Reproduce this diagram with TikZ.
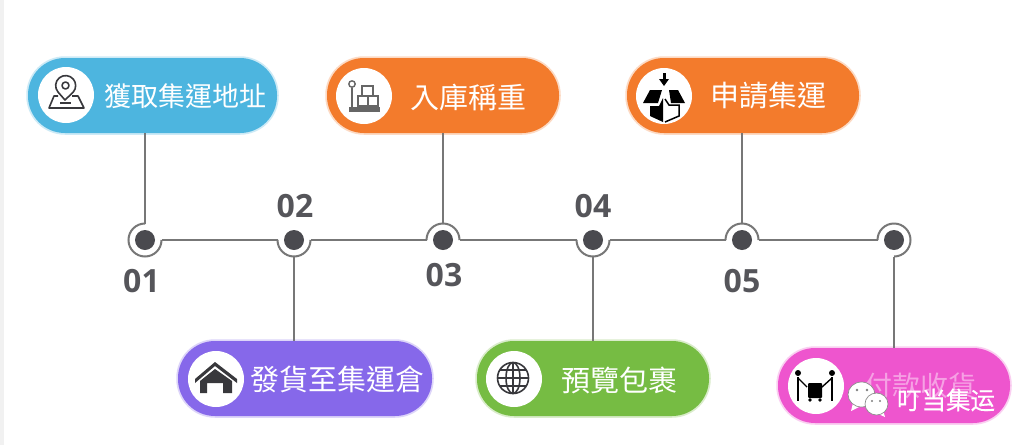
\documentclass[tikz,border=0pt]{standalone}
\usepackage{fontspec}
\setmainfont{Noto Sans CJK TC}
\newfontfamily\numfont{Open Sans}
\newfontfamily\markfont[FakeBold=0.4]{Noto Sans CJK SC}
\usetikzlibrary{arrows.meta,positioning,calc,shapes.geometric}
\definecolor{pillblue}{HTML}{4DB5DF}
\definecolor{pillorange}{HTML}{F37B2C}
\definecolor{pillpurple}{HTML}{8668EA}
\definecolor{pillgreen}{HTML}{76BC43}
\definecolor{pillpink}{HTML}{EE55CE}
\definecolor{linegrey}{HTML}{777777}
\definecolor{dotgrey}{HTML}{4A4A4F}
\definecolor{numgrey}{HTML}{55555A}
\definecolor{icongrey}{HTML}{38383C}
\definecolor{stripgrey}{HTML}{F1F1F1}
\tikzset{
  pill/.style={rounded corners=37pt, fill=#1, minimum height=75pt, inner sep=0pt,
               preaction={draw=#1!28, line width=3.5pt}},
  iconbg/.style={circle, fill=white, minimum size=56pt, inner sep=0pt},
  pilltext/.style={text=white, font=\fontsize{29pt}{31pt}\selectfont, inner sep=0pt, anchor=west},
  stemline/.style={draw=linegrey, line width=2pt},
  fdot/.style={circle, fill=dotgrey, minimum size=20pt, inner sep=0pt, outer sep=6.5pt},
  numlabel/.style={font=\numfont\bfseries\fontsize{32pt}{34pt}\selectfont, text=numgrey, inner sep=0pt},
  iconline/.style={draw=icongrey, line width=1.6pt, line join=round},
  bubble/.style={ellipse, draw=black!45, line width=0.7pt, fill=white, inner sep=0pt},
}
\begin{document}
\begin{tikzpicture}[x=1pt, y=-1pt]
  \useasboundingbox (0,0) rectangle (1028,445);
  \fill[white] (0,0) rectangle (1028,445);
  \fill[stripgrey] (0,0) rectangle (4,445);

  % --- pills ---
  \node[pill=pillblue, minimum width=249pt] (p1) at (152.5,95.5) {};
  \node[pill=pillorange, minimum width=232pt] (p3) at (443,95.5) {};
  \node[pill=pillorange, minimum width=232pt] (p5) at (743,95.5) {};
  \node[pill=pillpurple, minimum width=254pt] (p2) at (305,378.5) {};
  \node[pill=pillgreen, minimum width=232pt] (p4) at (593,378.5) {};
  \node[pill=pillpink, minimum width=232pt] (p6) at (894,385.5) {};

  % --- icon discs ---
  \node[iconbg] (ic1) at (66,95) {};
  \node[iconbg] (ic3) at (364,96) {};
  \node[iconbg] (ic5) at (664,96) {};
  \node[iconbg] (ic2) at (216,379) {};
  \node[iconbg] (ic4) at (514,379) {};
  \node[iconbg] (ic6) at (816,386) {};

  % --- pill texts ---
  \node[pilltext, font=\fontsize{27pt}{29pt}\selectfont] (t1) at (104,96) {獲取集運地址};
  \node[pilltext] (t3) at (410,97) {入庫稱重};
  \node[pilltext] (t5) at (710,96) {申請集運};
  \node[pilltext] (t2) at (250,379) {發貨至集運倉};
  \node[pilltext] (t4) at (561,380) {預覽包裹};
  \node[pilltext, font=\fontsize{28pt}{30pt}\selectfont, text=white!45!pillpink] (t6) at (864,386) {付款收貨};

  % --- timeline ---
  \node[fdot] (d1) at (145,240) {};
  \node[fdot] (d2) at (294,240) {};
  \node[fdot] (d3) at (443,240) {};
  \node[fdot] (d4) at (593,240) {};
  \node[fdot] (d5) at (742,240) {};
  \node[fdot] (d6) at (894,240) {};

  \draw[stemline] (p1.south -| d1.north) -- (d1.north);
  \draw[stemline] (p3.south -| d3.north) -- (d3.north);
  \draw[stemline] (p5.south -| d5.north) -- (d5.north);
  \draw[stemline] (d2.south) -- (p2.north -| d2.south);
  \draw[stemline] (d4.south) -- (p4.north -| d4.south);
  \draw[stemline] (d6.south) -- (p6.north -| d6.south);
  \draw[stemline] (d1.east) -- (d2.west);
  \draw[stemline] (d2.east) -- (d3.west);
  \draw[stemline] (d3.east) -- (d4.west);
  \draw[stemline] (d4.east) -- (d5.west);
  \draw[stemline] (d5.east) -- (d6.west);

  % --- rings ---
  \draw[stemline] (d1.north) arc[start angle=270, end angle=0, radius=16.5];
  \draw[stemline] (d2.west) arc[start angle=180, end angle=0, radius=16.5];
  \draw[stemline] (d3.west) arc[start angle=180, end angle=360, radius=16.5];
  \draw[stemline] (d4.west) arc[start angle=180, end angle=0, radius=16.5];
  \draw[stemline] (d5.west) arc[start angle=180, end angle=360, radius=16.5];
  \draw[stemline] (d6.west) arc[start angle=180, end angle=450, radius=16.5];

  % --- numbers ---
  \node[numlabel] (n1) at (141.5,281) {01};
  \node[numlabel] (n2) at (295,206) {02};
  \node[numlabel] (n3) at (444,275) {03};
  \node[numlabel] (n4) at (593,206) {04};
  \node[numlabel] (n5) at (742,281) {05};

  % --- icon: map pin ---
  \draw[iconline] (65,100) -- (58,92) arc[start angle=140, end angle=400, radius=10] -- cycle;
  \draw[iconline] (65.5,85.5) circle[radius=3.5];
  \draw[iconline] (58,96) -- (54,96) -- (49,108) -- (84,108) -- (78,96) -- (72,96);
  \fill[icongrey] (60,102) rectangle (71,104);

  % --- icon: scale with boxes ---
  \begin{scope}[draw=black!60, line width=1.4pt]
    \draw (352,84) circle[radius=3.2];
    \draw (352,88) -- (352,108);
    \draw (362,86) rectangle (373,96);
    \draw (358,96) rectangle (368,106);
    \draw (368,96) rectangle (378,106);
    \fill[black!60] (349,107) rectangle (380,112);
  \end{scope}

  % --- icon: box ---
  \fill[black] (662.5,73) rectangle (665.5,80);
  \fill[black] (659,79) -- (669,79) -- (664,86) -- cycle;
  \fill[black] (643,103) -- (650,90) -- (662,90) -- (658,103) -- cycle;
  \fill[black] (669,90) -- (678,90) -- (685,103) -- (671,103) -- cycle;
  \fill[black] (650,106) -- (659,106) -- (663,98) -- (663,122) -- (650,116) -- cycle;
  \draw[black, line width=1.5pt] (665,99) -- (669,105) -- (679,105) -- (679,116) -- (665,122);

  % --- icon: warehouse ---
  \fill[icongrey] (195,379) -- (215,362) -- (237,379) -- (237,383) -- (215,366) -- (195,383) -- cycle;
  \fill[icongrey] (200,381) -- (215,369) -- (232,381) -- (232,393) -- (223,393) -- (223,383) -- (207,383) -- (207,393) -- (200,393) -- cycle;

  % --- icon: globe ---
  \begin{scope}[iconline]
    \draw (513,378) circle[radius=15.5];
    \draw (513,378) ellipse[x radius=7, y radius=15.5];
    \draw (513,362.5) -- (513,393.5);
    \draw (497.5,378) -- (528.5,378);
    \draw (500,370) -- (526,370);
    \draw (500,386) -- (526,386);
  \end{scope}

  % --- icon: two people and a cart ---
  \fill[black] (798,373) circle[radius=3];
  \fill[black] (832,373) circle[radius=3];
  \draw[black, line width=2.6pt] (798,377) -- (798,401);
  \draw[black, line width=2.6pt] (832,377) -- (832,401);
  \draw[black, line width=1.4pt] (798,378) -- (807,387);
  \draw[black, line width=1.4pt] (832,378) -- (822,387);
  \fill[black, rounded corners=1pt] (808,383) rectangle (822,398);
  \fill[black] (810,400) circle[radius=1.8];
  \fill[black] (820,400) circle[radius=1.8];

  % --- watermark ---
  \fill[white] (853,403) -- (851,411) -- (861,406) -- cycle;
  \node[bubble, minimum width=27pt, minimum height=25pt] (wa) at (861.5,394.5) {};
  \fill[white] (883,410) -- (885,417) -- (876,413) -- cycle;
  \node[bubble, minimum width=23pt, minimum height=22pt] (wb) at (876.5,404) {};
  \fill[black!50] (857,390) circle[radius=1.4] (867,390) circle[radius=1.4];
  \fill[black!50] (872,401) circle[radius=1.2] (880,401) circle[radius=1.2];
  \node[inner sep=0pt, text=white, font=\markfont\fontsize{24.5pt}{26pt}\selectfont] (wm) at (946,400) {叮当集运};
\end{tikzpicture}
\end{document}
